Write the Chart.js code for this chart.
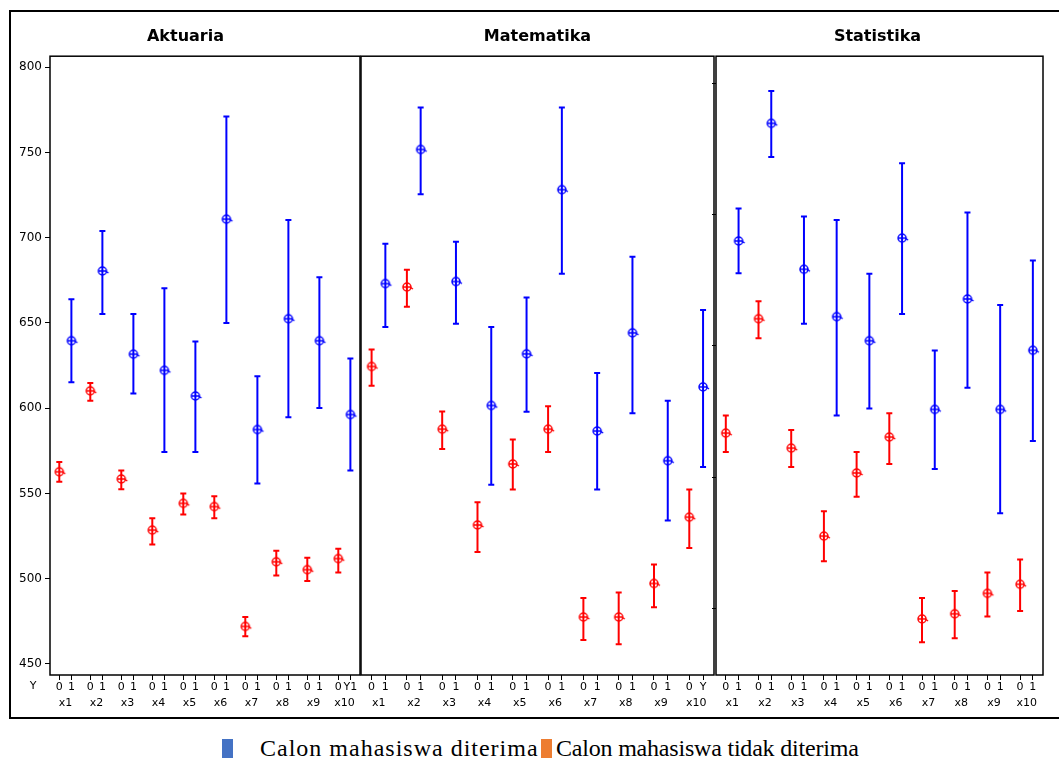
<!DOCTYPE html>
<html>
<head>
<meta charset="utf-8">
<script src="https://cdn.jsdelivr.net/npm/chart.js@4.4.0/dist/chart.umd.min.js"></script>
<style>
  body { margin: 0; width: 1059px; height: 764px; background: #fff; position: relative; overflow: hidden; }
  #frame { position: absolute; left: 9px; top: 10px; width: 1060px; height: 705px; border: 2px solid #000; }
  .panel { position: absolute; top: 12px; }
  .sw { position: absolute; top: 739px; width: 11px; height: 19px; }
  .lt { position: absolute; top: 736px; font-family: "Liberation Serif"; font-size: 24px; line-height: 24px; color: #000; white-space: nowrap; }
</style>
</head>
<body>
<div id="frame"></div>
<canvas id="aktuariaChart" class="panel" width="350" height="703" style="left:11px"></canvas>
<canvas id="matematikaChart" class="panel" width="355" height="703" style="left:360px"></canvas>
<canvas id="statistikaChart" class="panel" width="332" height="703" style="left:712px"></canvas>

<div class="sw" style="left:222px;background:#4472c4"></div>
<div class="lt" style="left:260px;letter-spacing:1px">Calon mahasiswa diterima</div>
<div class="sw" style="left:541px;background:#ed7d31"></div>
<div class="lt" style="left:556px;letter-spacing:-0.2px">Calon mahasiswa tidak diterima</div>

<script>
const categories = ["x1", "x2", "x3", "x4", "x5", "x6", "x7", "x8", "x9", "x10"];
const groups = ["0", "1"];
const yTicks = [450, 500, 550, 600, 650, 700, 750, 800];

// Aktuaria: mean and interval for Y=0 (not accepted) and Y=1 (accepted)
const aktuariaMean0 = [562.7, 610.2, 558.5, 528.5, 544.2, 542.3, 472.0, 509.9, 505.3, 511.8];
const aktuariaLow0 = [556.9, 604.4, 552.5, 520.1, 537.7, 535.4, 466.2, 501.8, 498.6, 503.7];
const aktuariaHigh0 = [568.5, 614.8, 563.4, 535.4, 550.0, 548.4, 477.5, 516.4, 512.3, 517.6];
const aktuariaMean1 = [639.6, 680.5, 631.7, 622.2, 607.2, 710.9, 587.5, 652.5, 639.6, 596.3];
const aktuariaLow1 = [615.3, 655.3, 608.6, 574.3, 574.3, 650.0, 555.8, 594.7, 600.2, 563.4];
const aktuariaHigh1 = [663.9, 703.9, 655.3, 670.4, 639.1, 771.1, 618.7, 710.4, 676.8, 629.2];

// Matematika
const matematikaMean0 = [624.5, 671.1, 587.7, 531.5, 567.3, 587.7, 477.5, 477.5, 497.2, 536.1];
const matematikaLow0 = [613.2, 659.5, 576.1, 515.7, 552.3, 574.3, 464.1, 461.6, 483.3, 518.0];
const matematikaHigh0 = [634.5, 681.2, 598.1, 544.9, 581.7, 601.1, 488.6, 491.9, 508.3, 552.3];
const matematikaMean1 = [673.1, 751.8, 674.3, 601.6, 631.9, 728.2, 586.6, 644.2, 569.2, 612.5];
const matematikaLow1 = [647.7, 725.5, 649.5, 555.1, 597.9, 678.9, 552.3, 597.0, 534.2, 565.5];
const matematikaHigh1 = [696.5, 776.4, 697.7, 647.7, 665.0, 776.4, 620.6, 688.9, 604.4, 657.6];

// Statistika
const statistikaMean0 = [585.4, 652.5, 576.6, 525.0, 562.0, 583.1, 476.4, 479.4, 491.4, 496.7];
const statistikaLow0 = [574.3, 641.0, 565.5, 510.2, 548.1, 567.3, 462.7, 465.0, 477.8, 481.0];
const statistikaHigh0 = [595.8, 662.7, 587.2, 539.6, 574.3, 597.0, 488.6, 492.8, 503.7, 511.3];
const statistikaMean1 = [698.1, 767.1, 681.5, 653.7, 639.6, 699.8, 599.3, 664.1, 599.3, 634.0];
const statistikaLow1 = [679.2, 747.4, 649.5, 595.8, 599.8, 655.3, 564.3, 612.0, 538.4, 580.8];
const statistikaHigh1 = [717.1, 786.1, 712.5, 710.4, 678.9, 743.7, 633.8, 714.8, 660.6, 686.6];

const BLUE = "#0000ff";
const RED = "#ff0000";
const OFF0 = 0.3; // position of group 0 inside each x slot
const OFF1 = 0.69; // position of group 1
const Y_MIN = 443.5;
const Y_MAX = 806.5;

Chart.defaults.font.family = "DejaVu Sans";
Chart.defaults.color = "#000";

// circle with a bar and small tail, like the minitab mean symbol
function makeMarker(color) {
  const c = document.createElement("canvas");
  c.width = 16;
  c.height = 12;
  const g = c.getContext("2d");
  g.strokeStyle = color;
  g.lineWidth = 1.5;
  g.beginPath();
  g.arc(8, 6, 4, 0, Math.PI * 2);
  g.stroke();
  g.beginPath();
  g.moveTo(4, 6);
  g.lineTo(12, 6);
  g.moveTo(11, 6);
  g.lineTo(14, 8);
  g.stroke();
  return c;
}

function meanPoints(offset, mean) {
  return mean.map((v, i) => ({ x: i + offset, y: v }));
}

function barPoints(offset, low, high) {
  const pts = [];
  categories.forEach((c, i) => {
    pts.push({ x: i + offset, y: low[i] }, { x: i + offset, y: high[i] }, { x: i + offset, y: null });
  });
  return pts;
}

const boxPlugin = {
  id: "box",
  afterDraw(chart) {
    const a = chart.chartArea;
    const ctx = chart.ctx;
    ctx.save();
    ctx.strokeStyle = "#000";
    ctx.lineWidth = 1.5;
    ctx.strokeRect(a.left, a.top, a.right - a.left, a.bottom - a.top);
    ctx.restore();
  },
};

const yLetterPlugin = {
  id: "yLetter",
  afterDraw(chart) {
    const ctx = chart.ctx;
    ctx.save();
    ctx.font = '11px "DejaVu Sans"';
    ctx.fillStyle = "#000";
    ctx.textAlign = "center";
    ctx.textBaseline = "middle";
    ctx.fillText("Y", chart.chartArea.left - 17, chart.scales.x.top + 11);
    ctx.restore();
  },
};

// keep the plot box exactly where the layout puts it (no room for label overflow)
function noSidePadding(s, h) {
  s.height = h;
  s.paddingLeft = 0;
  s.paddingRight = 0;
}

function makePanel(id, title, d, opts) {
  const tickPos = categories.flatMap((c, i) => [i + OFF0, i + OFF1]);
  const scales = {
    x: {
      type: "linear",
      min: 0,
      max: 10,
      position: "bottom",
      weight: 0,
      afterBuildTicks: (s) => { s.ticks = tickPos.map((v) => ({ value: v })); },
      afterFit: (s) => noSidePadding(s, 20),
      grid: { drawOnChartArea: false, tickLength: 5, color: "#000" },
      border: { display: false },
      ticks: {
        autoSkip: false,
        maxRotation: 0,
        padding: 1,
        font: { size: 11 },
        callback: (v, i) => (i === tickPos.length - 1 && opts.lastLabel ? opts.lastLabel : groups[i % 2]),
      },
    },
    x2: {
      type: "linear",
      min: 0,
      max: 10,
      position: "bottom",
      weight: 1,
      afterBuildTicks: (s) => { s.ticks = categories.map((c, i) => ({ value: i + 0.5 })); },
      afterFit: (s) => noSidePadding(s, 18),
      grid: { display: false, drawTicks: false },
      border: { display: false },
      ticks: { autoSkip: false, maxRotation: 0, padding: 2, font: { size: 11 }, callback: (v, i) => categories[i] },
    },
    y: {
      type: "linear",
      min: Y_MIN,
      max: Y_MAX,
      display: opts.showY,
      position: "left",
      afterBuildTicks: (s) => { s.ticks = yTicks.map((v) => ({ value: v })); },
      afterFit: (s) => { s.width = opts.showY ? 39 : 0; },
      grid: { drawOnChartArea: false, tickLength: 5, color: "#000" },
      border: { display: false },
      ticks: { padding: 3, font: { size: 12 } },
    },
  };
  if (opts.extraTicks) {
    // unlabeled tick marks on the left edge of the last panel
    scales.y2 = {
      type: "linear",
      min: -0.51,
      max: 4.21,
      position: "left",
      afterBuildTicks: (s) => { s.ticks = [0, 1, 2, 3, 4].map((v) => ({ value: v })); },
      afterFit: (s) => { s.width = 4; },
      grid: { drawOnChartArea: false, tickLength: 4, color: "#000" },
      border: { display: false },
      ticks: { display: false },
    };
  }

  const ctx = document.getElementById(id).getContext("2d");
  return new Chart(ctx, {
    type: "scatter",
    data: {
      datasets: [
        { label: "1", data: meanPoints(OFF1, d.mean1), pointStyle: makeMarker(BLUE), pointRadius: 5, showLine: false },
        { label: "0", data: meanPoints(OFF0, d.mean0), pointStyle: makeMarker(RED), pointRadius: 5, showLine: false },
        {
          label: "1 interval",
          data: barPoints(OFF1, d.low1, d.high1),
          showLine: true,
          borderColor: BLUE,
          borderWidth: 2,
          pointStyle: "line",
          pointRadius: 3,
          pointBorderWidth: 2,
          pointBorderColor: BLUE,
        },
        {
          label: "0 interval",
          data: barPoints(OFF0, d.low0, d.high0),
          showLine: true,
          borderColor: RED,
          borderWidth: 2,
          pointStyle: "line",
          pointRadius: 3,
          pointBorderWidth: 2,
          pointBorderColor: RED,
        },
      ],
    },
    options: {
      responsive: false,
      animation: false,
      layout: { autoPadding: false, padding: { left: opts.padLeft, right: 1, top: 0, bottom: 2 } },
      plugins: {
        legend: { display: false },
        tooltip: { enabled: false },
        title: {
          display: true,
          text: title,
          color: "#000",
          font: { size: 16, weight: "bold" },
          padding: { top: 15, bottom: 10 },
        },
      },
      scales: scales,
    },
    plugins: opts.showY ? [boxPlugin, yLetterPlugin] : [boxPlugin],
  });
}

makePanel("aktuariaChart", "Aktuaria", {
  mean0: aktuariaMean0, low0: aktuariaLow0, high0: aktuariaHigh0,
  mean1: aktuariaMean1, low1: aktuariaLow1, high1: aktuariaHigh1,
}, { showY: true, padLeft: 0, lastLabel: "Y1" });

makePanel("matematikaChart", "Matematika", {
  mean0: matematikaMean0, low0: matematikaLow0, high0: matematikaHigh0,
  mean1: matematikaMean1, low1: matematikaLow1, high1: matematikaHigh1,
}, { showY: false, padLeft: 1, lastLabel: "Y" });

makePanel("statistikaChart", "Statistika", {
  mean0: statistikaMean0, low0: statistikaLow0, high0: statistikaHigh0,
  mean1: statistikaMean1, low1: statistikaLow1, high1: statistikaHigh1,
}, { showY: false, padLeft: 0, extraTicks: true });
</script>
</body>
</html>
